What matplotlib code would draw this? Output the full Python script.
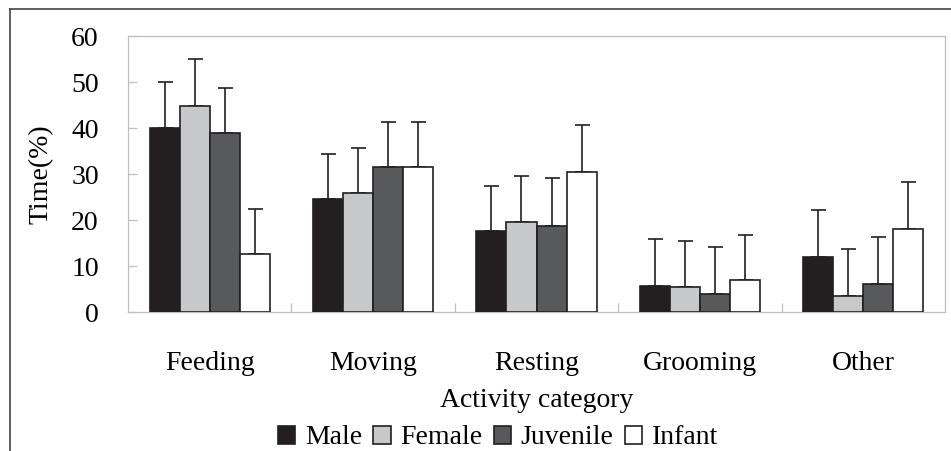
import numpy as np
import matplotlib.pyplot as plt
from matplotlib.lines import Line2D

# -------------------------------------------------------------------------
# DATA
# -------------------------------------------------------------------------
categories = ["Feeding", "Moving", "Resting", "Grooming", "Other"]
groups = ["Male", "Female", "Juvenile", "Infant"]

male_mean = [40.0, 24.6, 17.7, 5.6, 11.9]
female_mean = [44.7, 25.8, 19.6, 5.5, 3.5]
juvenile_mean = [39.0, 31.6, 18.8, 4.0, 6.1]
infant_mean = [12.6, 31.6, 30.4, 6.9, 18.0]

male_sd = [10.1, 9.8, 9.7, 10.3, 10.2]
female_sd = [10.2, 9.9, 9.9, 10.0, 10.3]
juvenile_sd = [9.8, 9.8, 10.3, 10.2, 10.2]
infant_sd = [9.9, 9.8, 10.2, 9.8, 10.3]

yticks = [0, 10, 20, 30, 40, 50, 60]

# -------------------------------------------------------------------------
# STYLE
# -------------------------------------------------------------------------
plt.rcParams["font.family"] = ["Liberation Serif", "DejaVu Serif"]
colors = ["#231f20", "#c7c8ca", "#58595b", "#ffffff"]
edge = "#231f20"
frame_gray = "#bfbfbf"
fs = 20

means = [male_mean, female_mean, juvenile_mean, infant_mean]
sds = [male_sd, female_sd, juvenile_sd, infant_sd]

fig = plt.figure(figsize=(9.51, 4.51), dpi=100)
ax = fig.add_axes([128 / 951, 1 - 312 / 451, (945 - 128) / 951, (312 - 36) / 451])

x = np.arange(len(categories))
width = 0.184
offsets = (np.arange(len(groups)) - 1.5) * width

for i, name in enumerate(groups):
    pos = x + offsets[i]
    ax.bar(pos, means[i], width, color=colors[i], edgecolor=edge,
           linewidth=1.2, label=name, zorder=3)
    ax.errorbar(pos, means[i], yerr=[np.zeros(len(x)), sds[i]], fmt="none",
                ecolor=edge, elinewidth=1.2, capsize=5.4, capthick=1.2,
                zorder=2)

ax.set_xlim(-0.5, len(categories) - 0.5)
ax.set_ylim(0, 60)
ax.set_yticks(yticks)
ax.set_xticks(x)
ax.set_xticklabels(categories)
ax.set_xticks(np.arange(0.5, len(categories) - 0.5, 1.0), minor=True)

for side in ["left", "right", "top", "bottom"]:
    ax.spines[side].set_color(frame_gray)
    ax.spines[side].set_linewidth(0.9)

ax.tick_params(axis="y", direction="in", length=6.5, width=0.9,
               color=frame_gray, labelsize=fs, pad=21)
ax.tick_params(axis="x", which="major", length=0, labelsize=fs, pad=28)
ax.tick_params(axis="x", which="minor", direction="in", length=6.5,
               width=0.9, color=frame_gray)

ax.set_ylabel("Time(%)", fontsize=fs, labelpad=13)
ax.set_xlabel("Activity category", fontsize=fs, labelpad=9)

ax.legend(loc="center", bbox_to_anchor=(498 / 951, 13 / 451),
          bbox_transform=fig.transFigure, ncol=4, frameon=False,
          fontsize=fs, handlelength=0.62, handleheight=0.62,
          handletextpad=0.35, columnspacing=0.4, borderpad=0)

# outer frame (top and left edges)
fig.add_artist(Line2D([10 / 951, 1.0], [1 - 9 / 451, 1 - 9 / 451],
                      color="#444444", linewidth=1.2))
fig.add_artist(Line2D([10 / 951, 10 / 951], [0.0, 1 - 9 / 451],
                      color="#444444", linewidth=1.2))

fig.savefig("out.png", dpi=100)
